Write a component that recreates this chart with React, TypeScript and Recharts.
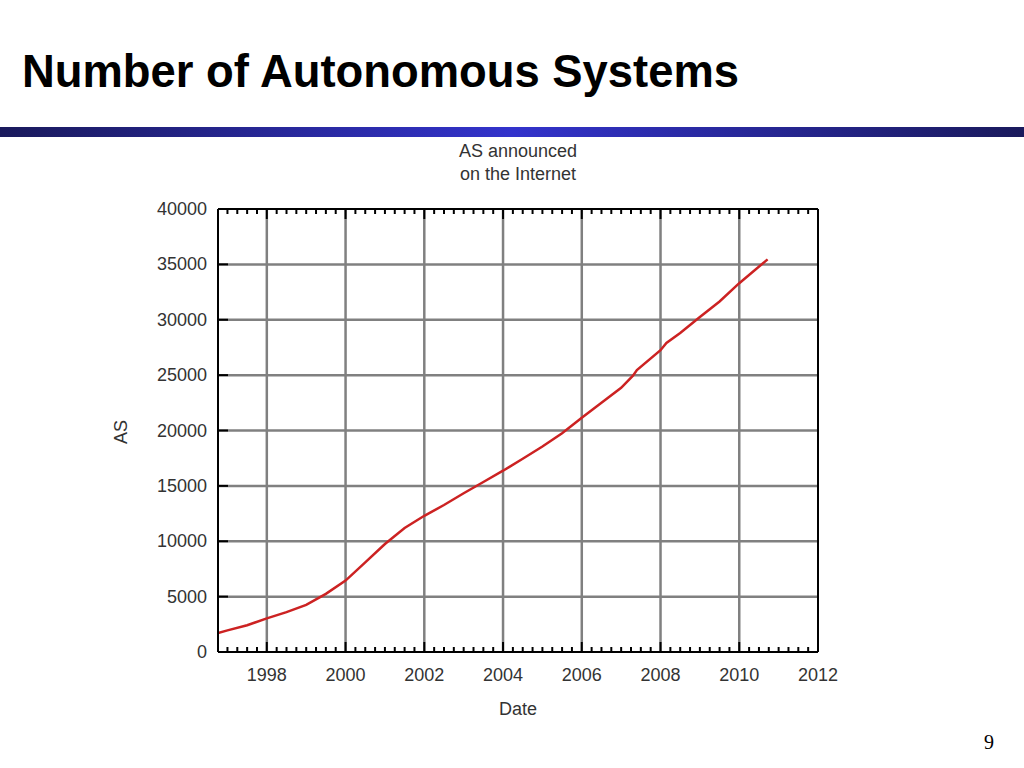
import React from 'react';
import { LineChart, Line, XAxis, YAxis, ReferenceLine } from 'recharts';

// fractional years and announced AS counts
const dates = [
  1996.76, 1997.0, 1997.5, 1998.0, 1998.5, 1999.0, 1999.5, 2000.0, 2000.5, 2001.0,
  2001.5, 2002.0, 2002.5, 2003.0, 2003.5, 2004.0, 2004.5, 2005.0, 2005.5, 2006.0,
  2006.5, 2007.0, 2007.3, 2007.4, 2008.0, 2008.15, 2008.5, 2009.0, 2009.5, 2010.0, 2010.72,
];
const asCounts = [
  1700, 1950, 2420, 3040, 3600, 4250, 5250, 6450, 8100, 9750,
  11200, 12300, 13270, 14330, 15350, 16370, 17450, 18550, 19750, 21150,
  22500, 23850, 24950, 25450, 27250, 27900, 28800, 30250, 31650, 33300, 35450,
];

const yearTicks = [1998, 2000, 2002, 2004, 2006, 2008, 2010, 2012];
const gridYears = [1998, 2000, 2002, 2004, 2006, 2008, 2010];
const tickYears = [1997, 1998, 1999, 2000, 2001, 2002, 2003, 2004, 2005, 2006, 2007, 2008, 2009, 2010, 2011];
const quarters = [0, 0.25, 0.5, 0.75];
const countTicks = [0, 5000, 10000, 15000, 20000, 25000, 30000, 35000, 40000];
const gridCounts = [5000, 10000, 15000, 20000, 25000, 30000, 35000];

const minorTicks = tickYears.flatMap((y) => quarters.map((q) => y + q)).concat([yearTicks[yearTicks.length - 1]]);
const data = dates.map((d, i) => ({ date: d, as: asCounts[i] }));

const FONT = '"Liberation Sans", Arial, sans-serif';
const LABEL = '#333';

const isMajor = (v: number) => Math.abs(v / 2 - Math.round(v / 2)) < 1e-6;

const BottomTick = (props: any) => {
  const { x, y, payload } = props;
  const v = payload.value;
  const major = isMajor(v);
  return (
    <g>
      <line x1={x} x2={x} y1={y} y2={y - (major ? 10 : 5)} stroke="#000" strokeWidth={2} />
      {major && (
        <text x={x} y={y + 29} textAnchor="middle" fill={LABEL} fontSize={18} fontFamily={FONT}>
          {v}
        </text>
      )}
    </g>
  );
};

const TopTick = (props: any) => {
  const { x, y, payload } = props;
  const major = isMajor(payload.value);
  return <line x1={x} x2={x} y1={y} y2={y + (major ? 10 : 5)} stroke="#000" strokeWidth={2} />;
};

const LeftTick = (props: any) => {
  const { x, y, payload } = props;
  return (
    <g>
      <line x1={x} x2={x + 10} y1={y} y2={y} stroke="#000" strokeWidth={2} />
      <text x={x - 11} y={y + 6} textAnchor="end" fill={LABEL} fontSize={18} fontFamily={FONT}>
        {payload.value}
      </text>
    </g>
  );
};

const RightTick = (props: any) => {
  const { x, y } = props;
  return <line x1={x} x2={x - 10} y1={y} y2={y} stroke="#000" strokeWidth={2} />;
};

export default function App() {
  return (
    <div
      style={{
        position: 'absolute',
        left: 0,
        top: 0,
        width: 1024,
        height: 768,
        background: '#fff',
        fontFamily: FONT,
        overflow: 'hidden',
      }}
    >
      <div
        style={{
          position: 'absolute',
          left: 22,
          top: 49,
          fontSize: 45.4,
          fontWeight: 'bold',
          lineHeight: 1,
          color: '#000',
          whiteSpace: 'nowrap',
        }}
      >
        Number of Autonomous Systems
      </div>
      <div
        style={{
          position: 'absolute',
          left: 0,
          top: 127,
          width: 1024,
          height: 10,
          background: 'linear-gradient(to right, #1a1a5c 0%, #3333cc 50%, #1a1a5c 100%)',
        }}
      />

      <LineChart
        width={1024}
        height={768}
        data={data}
        margin={{ top: 208, right: 205, bottom: 76, left: 158 }}
        style={{ position: 'absolute', left: 0, top: 0 }}
      >
        {gridYears.map((y) => (
          <ReferenceLine key={'gx' + y} xAxisId="bottom" yAxisId="left" x={y} stroke="#808080" strokeWidth={2.5} />
        ))}
        {gridCounts.map((c) => (
          <ReferenceLine key={'gy' + c} xAxisId="bottom" yAxisId="left" y={c} stroke="#808080" strokeWidth={2.5} />
        ))}
        <XAxis
          xAxisId="bottom"
          dataKey="date"
          type="number"
          domain={[1996.76, 2012]}
          allowDataOverflow
          ticks={minorTicks}
          interval={0}
          tickSize={0}
          tickMargin={0}
          tickLine={false}
          tick={<BottomTick />}
          height={40}
          axisLine={{ stroke: '#000', strokeWidth: 2 }}
        />
        <XAxis
          xAxisId="top"
          orientation="top"
          dataKey="date"
          type="number"
          domain={[1996.76, 2012]}
          allowDataOverflow
          ticks={minorTicks}
          interval={0}
          tickSize={0}
          tickMargin={0}
          tickLine={false}
          tick={<TopTick />}
          height={1}
          axisLine={{ stroke: '#000', strokeWidth: 2 }}
        />
        <YAxis
          yAxisId="left"
          type="number"
          domain={[0, 40000]}
          ticks={countTicks}
          interval={0}
          tickSize={0}
          tickMargin={0}
          tickLine={false}
          tick={<LeftTick />}
          width={60}
          axisLine={{ stroke: '#000', strokeWidth: 2 }}
        />
        <YAxis
          yAxisId="right"
          orientation="right"
          type="number"
          domain={[0, 40000]}
          ticks={countTicks}
          interval={0}
          tickSize={0}
          tickMargin={0}
          tickLine={false}
          tick={<RightTick />}
          width={1}
          axisLine={{ stroke: '#000', strokeWidth: 2 }}
        />
        <Line
          xAxisId="bottom"
          yAxisId="left"
          type="linear"
          dataKey="as"
          stroke="#cc2222"
          strokeWidth={2.5}
          dot={false}
          isAnimationActive={false}
        />
      </LineChart>

      <div style={{ position: 'absolute', left: 418, width: 200, top: 140, textAlign: 'center', fontSize: 18, lineHeight: '23px', color: LABEL }}>
        AS announced
        <br />
        on the Internet
      </div>
      <div style={{ position: 'absolute', left: 468, width: 100, top: 699, textAlign: 'center', fontSize: 18, lineHeight: '20px', color: LABEL }}>
        Date
      </div>
      <div
        style={{
          position: 'absolute',
          left: 101,
          top: 422,
          width: 40,
          textAlign: 'center',
          fontSize: 18,
          lineHeight: '20px',
          color: LABEL,
          transform: 'rotate(-90deg)',
        }}
      >
        AS
      </div>
      <div style={{ position: 'absolute', left: 984, top: 731, fontSize: 20, fontFamily: '"Liberation Serif", serif', color: '#000' }}>
        9
      </div>
    </div>
  );
}
